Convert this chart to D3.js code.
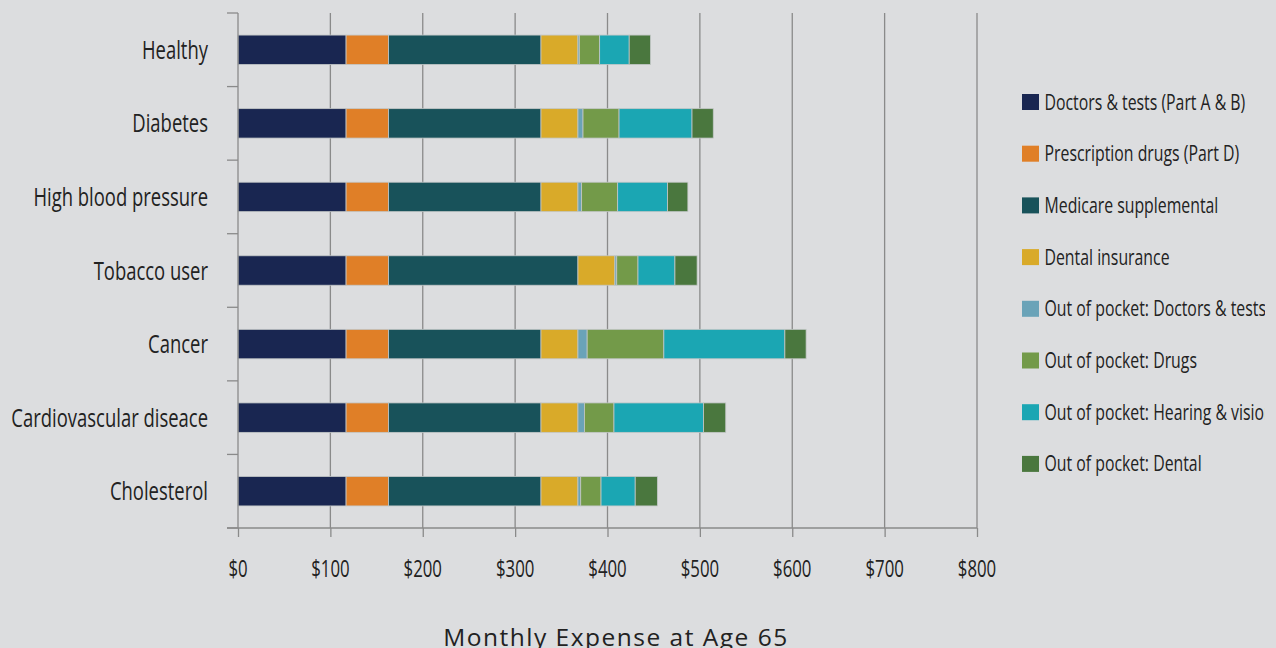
<!DOCTYPE html>
<html>
<head>
<meta charset="utf-8">
<script src="https://cdn.jsdelivr.net/npm/d3@7"></script>
<style>
  html, body { margin: 0; padding: 0; background: #dcdddf; }
  svg { display: block; }
  text { font-family: "Open Sans", "Noto Sans", sans-serif; fill: #222; font-weight: 400; }
</style>
</head>
<body>
<svg id="chart" width="1276" height="648"></svg>
<script>
const categories = ["Healthy", "Diabetes", "High blood pressure", "Tobacco user", "Cancer", "Cardiovascular diseace", "Cholesterol"];
const seriesNames = ["Doctors & tests (Part A & B)", "Prescription drugs (Part D)", "Medicare supplemental", "Dental insurance", "Out of pocket: Doctors & tests", "Out of pocket: Drugs", "Out of pocket: Hearing & vision", "Out of pocket: Dental"];
const doctorsTests   = [117, 117, 117, 117, 117, 117, 117];
const prescription   = [46, 46, 46, 46, 46, 46, 46];
const medicareSupp   = [165, 165, 165, 205, 165, 165, 165];
const dentalIns      = [40, 40, 40, 40, 40, 40, 40];
const oopDoctors     = [1.5, 5.5, 4, 2, 10, 7, 3];
const oopDrugs       = [22, 39, 39, 23, 83, 32, 22];
const oopHearing     = [32, 79, 54, 40, 131, 97, 37];
const oopDental      = [23, 23, 22, 24, 23, 24, 24];
const tickValues     = [0, 100, 200, 300, 400, 500, 600, 700, 800];
const colors = ["#192651", "#e07f27", "#18525a", "#d9aa29", "#6aa3b8", "#739a49", "#1ba6b3", "#4a773e"];

const seriesValues = [doctorsTests, prescription, medicareSupp, dentalIns, oopDoctors, oopDrugs, oopHearing, oopDental];
const rows = categories.map((c, i) => {
  const r = { cat: c };
  seriesNames.forEach((s, j) => r[s] = seriesValues[j][i]);
  return r;
});

const svg = d3.select("#chart");
const SX = 0.72;
const x = d3.scaleLinear().domain([0, 800]).range([238, 977]);
const y = d3.scaleBand().domain(categories).range([13, 528]).padding(0);
const barH = y.bandwidth() * 0.4;
const color = d3.scaleOrdinal().domain(seriesNames).range(colors);
const axisColor = "#8a8a8a";

// gridlines
svg.append("g").selectAll("line").data(tickValues.filter(d => d > 0)).join("line")
  .attr("x1", d => x(d)).attr("x2", d => x(d))
  .attr("y1", 13).attr("y2", 528)
  .attr("stroke", axisColor).attr("stroke-width", 1.3);

// bars
const stacked = d3.stack().keys(seriesNames)(rows);
svg.append("g").selectAll("g").data(stacked).join("g")
  .attr("fill", d => color(d.key))
  .selectAll("rect").data(d => d).join("rect")
  .attr("x", d => x(d[0]))
  .attr("width", d => x(d[1]) - x(d[0]))
  .attr("y", d => y(d.data.cat) + (y.bandwidth() - barH) / 2)
  .attr("height", barH)
  .attr("stroke", "#c3c7c7").attr("stroke-width", 0.8);

// left axis
const gl = svg.append("g");
gl.append("line").attr("x1", x(0)).attr("x2", x(0)).attr("y1", 13).attr("y2", 528)
  .attr("stroke", axisColor).attr("stroke-width", 1.3);
const bounds = categories.map(c => y(c)).concat([y.range()[1]]);
gl.selectAll("line.tk").data(bounds).join("line").attr("class", "tk")
  .attr("x1", x(0) - 11).attr("x2", x(0)).attr("y1", d => d).attr("y2", d => d)
  .attr("stroke", axisColor).attr("stroke-width", 1.3);
gl.selectAll("text").data(categories).join("text")
  .attr("transform", d => `translate(208,${y(d) + y.bandwidth() / 2 + 9}) scale(0.71,1)`)
  .attr("text-anchor", "end")
  .style("font-size", "26px")
  .text(d => d);

// bottom axis
const gb = svg.append("g").attr("transform", "translate(0,528)");
gb.call(d3.axisBottom(x).tickValues(tickValues).tickSize(9).tickFormat(""));
gb.select(".domain").remove();
gb.selectAll(".tick line").attr("stroke", axisColor).attr("stroke-width", 1.3);
gb.append("line").attr("x1", x(0) - 11).attr("x2", x(800)).attr("y1", 0).attr("y2", 0)
  .attr("stroke", axisColor).attr("stroke-width", 1.3);
gb.selectAll("text.lbl").data(tickValues).join("text").attr("class", "lbl")
  .attr("transform", d => `translate(${x(d)},49) scale(0.7,1)`)
  .attr("text-anchor", "middle")
  .style("font-size", "24px")
  .text(d => "$" + d);

// axis title
svg.append("text")
  .attr("x", 616).attr("y", 646)
  .attr("text-anchor", "middle")
  .style("font-size", "24.5px").style("letter-spacing", "1.5px")
  .text("Monthly Expense at Age 65");

// legend
svg.append("clipPath").attr("id", "lgclip").append("rect")
  .attr("x", 1000).attr("y", 0).attr("width", 265).attr("height", 648);
const lg = svg.append("g").attr("clip-path", "url(#lgclip)");
const items = lg.selectAll("g").data(seriesNames).join("g")
  .attr("transform", (d, i) => `translate(1022,${94 + i * 51.7})`);
items.append("rect").attr("width", 17).attr("height", 16).attr("fill", d => color(d));
items.append("text")
  .attr("transform", `translate(22.5,15.5) scale(${SX},1)`)
  .style("font-size", "22px")
  .text(d => d);
</script>
</body>
</html>
